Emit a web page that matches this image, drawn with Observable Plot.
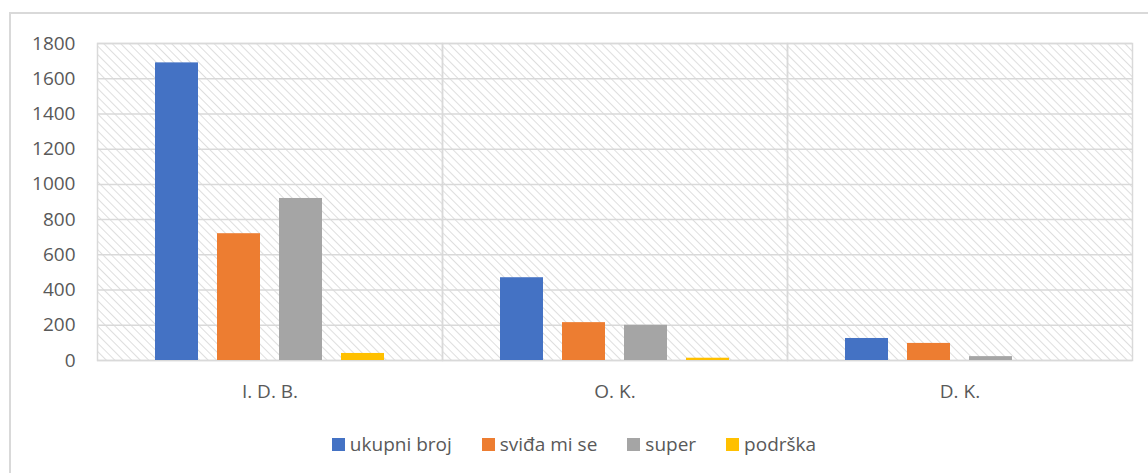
<!DOCTYPE html>
<html>
<head>
<meta charset="utf-8">
<script src="https://cdn.jsdelivr.net/npm/d3@7"></script>
<script src="https://cdn.jsdelivr.net/npm/@observablehq/plot@0.6"></script>
<style>
  html, body { margin: 0; padding: 0; background: #fff; width: 1148px; height: 473px; overflow: hidden; }
  #frame { position: absolute; left: 9px; top: 12px; width: 1160px; height: 500px; border: 2px solid #d9d9d9; box-sizing: border-box; }
  #chart { position: absolute; left: 0; top: 0; }
  #legend { position: absolute; top: 431px; left: 0; width: 1148px; display: flex; justify-content: center; font-family: "Open Sans", sans-serif; font-size: 19px; color: #595959; }
  .item { display: flex; align-items: center; margin: 0 15px; }
  .sw { width: 13px; height: 13px; margin-right: 5px; }
</style>
</head>
<body>
<svg width="0" height="0" style="position:absolute">
  <defs>
    <pattern id="hatch" width="6" height="6" patternUnits="userSpaceOnUse" patternTransform="rotate(-45)">
      <rect width="6" height="6" fill="#ffffff"></rect>
      <line x1="0" y1="0" x2="0" y2="6" stroke="#dedede" stroke-width="2"></line>
    </pattern>
  </defs>
</svg>
<div id="frame"></div>
<div id="chart"></div>
<div id="legend"></div>
<script>
const groups = ["I. D. B.", "O. K.", "D. K."];
const series = ["ukupni broj", "sviđa mi se", "super", "podrška"];
const colors = ["#4472C4", "#ED7D31", "#A5A5A5", "#FFC000"];
const ukupniBroj = [1690, 470, 125];
const svidaMiSe = [720, 215, 97];
const superVals = [920, 200, 22];
const podrska = [40, 13, 0];
const yTicks = [0, 200, 400, 600, 800, 1000, 1200, 1400, 1600, 1800];

const seriesValues = [ukupniBroj, svidaMiSe, superVals, podrska];
const data = [];
groups.forEach((g, gi) => {
  series.forEach((s, si) => {
    data.push({group: g, series: s, value: seriesValues[si][gi]});
  });
});

const chart = Plot.plot({
  width: 1148,
  height: 420,
  marginLeft: 97,
  marginRight: 16,
  marginTop: 43,
  marginBottom: 60,
  style: {fontFamily: "'Open Sans', sans-serif", fontSize: "19px", color: "#595959", background: "transparent"},
  fx: {domain: groups, padding: 0, label: null, axis: "bottom", tickSize: 0, tickPadding: 24},
  x: {domain: series, paddingInner: 0.306, paddingOuter: 0.935, axis: null},
  y: {domain: [0, 1800], ticks: yTicks, tickFormat: d3.format("d"), tickSize: 0, tickPadding: 22, label: null, grid: false},
  color: {domain: series, range: colors},
  marks: [
    Plot.frame({fill: "url(#hatch)", stroke: null}),
    Plot.ruleY(yTicks, {stroke: "#d9d9d9", strokeWidth: 1.5, facet: "exclude"}),
    Plot.frame({stroke: "#d9d9d9", strokeWidth: 1.5}),
    Plot.barY(data, {fx: "group", x: "series", y: "value", fill: "series"})
  ]
});
document.getElementById("chart").appendChild(chart);

const legend = document.getElementById("legend");
series.forEach((s, i) => {
  const it = document.createElement("div");
  it.className = "item";
  const sw = document.createElement("div");
  sw.className = "sw";
  sw.style.background = colors[i];
  it.appendChild(sw);
  const t = document.createElement("span");
  t.textContent = s;
  it.appendChild(t);
  legend.appendChild(it);
});
</script>
</body>
</html>
